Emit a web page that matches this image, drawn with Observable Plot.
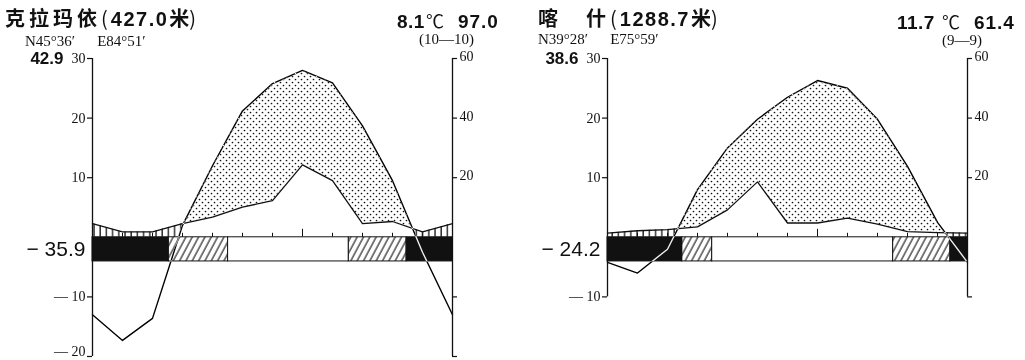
<!DOCTYPE html>
<html>
<head>
<meta charset="utf-8">
<script src="https://cdn.jsdelivr.net/npm/d3@7"></script>
<script src="https://cdn.jsdelivr.net/npm/@observablehq/plot@0.6"></script>
<style>
  body { margin: 0; background: #fff; }
  #chart { position: relative; width: 1025px; height: 360px; overflow: hidden; color: #111; }
  .hd { position: absolute; white-space: nowrap; color: #111; }
  .cjk { font-family: "Noto Sans CJK SC", sans-serif; }
  .title { font-size: 20px; line-height: 22px; font-weight: 700; }
  .paren { font-family: "Noto Sans CJK SC", sans-serif; font-weight: 400; }
  .num { font-family: "Liberation Sans", Arial, sans-serif; font-weight: 700; }
  .serif { font-family: "Liberation Serif", "DejaVu Serif", serif; font-size: 15px; line-height: 15px; }
  .annual { font-size: 19px; line-height: 19px; }
  .deg { font-family: "Noto Sans CJK SC", sans-serif; font-weight: 400; font-size: 18px; }
</style>
</head>
<body>
<!-- fill patterns shared by both diagrams -->
<svg width="0" height="0" style="position:absolute">
  <defs>
    <pattern id="arid" width="6" height="6" patternUnits="userSpaceOnUse">
      <circle cx="1.5" cy="1.5" r="0.85" fill="#111"/>
      <circle cx="4.5" cy="4.5" r="0.85" fill="#111"/>
    </pattern>
    <pattern id="humid" width="6.2" height="10" patternUnits="userSpaceOnUse">
      <line x1="1" y1="0" x2="1" y2="10" stroke="#111" stroke-width="1.3"/>
    </pattern>
    <pattern id="slant" width="5.6" height="10" patternUnits="userSpaceOnUse" patternTransform="rotate(28)">
      <line x1="1" y1="-1" x2="1" y2="11" stroke="#111" stroke-width="1.1"/>
    </pattern>
  </defs>
</svg>
<div id="chart"></div>
<script>
// Month positions: 1–12 = Jan–Dec; position 0 repeats December so the curves wrap.
const monthIndex = [1, 2, 3, 4, 5, 6, 7, 8, 9, 10, 11, 12];
const monthTicks = [1, 2, 3, 4, 5, 6, 8, 9, 10, 11];
const julyTick = [7];

// Station metadata
const stationNames = ["克拉玛依", "喀　什"];
const elevations = [427.0, 1288.7];
const latitudes = ["N45°36′", "N39°28′"];
const longitudes = ["E84°51′", "E75°59′"];
const annualTemp = [8.1, 11.7];
const annualPrecip = [97.0, 61.4];
const recordYears = ["10—10", "9—9"];
const absMax = [42.9, 38.6];
const absMin = [-35.9, -24.2];

// Monthly mean temperature (°C), Jan–Dec
const karamayTemp = [-17.3, -13.6, 2.0, 12.0, 21.2, 25.8, 28.0, 25.9, 18.7, 9.5, -2.5, -13.0];
const kashgarTemp = [-6.0, -2.0, 8.0, 15.0, 19.8, 23.5, 26.3, 25.0, 19.8, 11.9, 2.5, -4.2];

// Monthly precipitation (mm), Jan–Dec
const karamayPrecip = [1.8, 1.8, 4.6, 6.8, 10.1, 12.3, 24.3, 19.0, 4.6, 5.3, 1.8, 4.6];
const kashgarPrecip = [2.2, 2.6, 3.5, 9.2, 18.6, 4.8, 4.8, 6.4, 4.4, 1.9, 1.6, 1.4];

// Frost bar segments (month positions): solid = mean daily minimum below 0,
// slant = absolute minimum below 0, clear = frost-free
const karamayFrost = [
  {from: 0, to: 2.54, kind: "solid"},
  {from: 2.54, to: 4.52, kind: "slant"},
  {from: 4.52, to: 8.54, kind: "clear"},
  {from: 8.54, to: 10.47, kind: "slant"},
  {from: 10.47, to: 12, kind: "solid"}
];
const kashgarFrost = [
  {from: 0, to: 2.49, kind: "solid"},
  {from: 2.49, to: 3.49, kind: "slant"},
  {from: 3.49, to: 9.52, kind: "clear"},
  {from: 9.52, to: 11.43, kind: "slant"},
  {from: 11.43, to: 12, kind: "solid"}
];

// Axis ticks (°C on the left; same heights carry the mm scale on the right)
const karamayTempTicks = [30, 20, 10, -10, -20];
const kashgarTempTicks = [30, 20, 10, -10];
const precipTickLabels = [60, 40, 20];

const temps = [karamayTemp, kashgarTemp];
const precips = [karamayPrecip, kashgarPrecip];
const frostBands = [karamayFrost, kashgarFrost];
const tempTicks = [karamayTempTicks, kashgarTempTicks];

// Walter–Lieth convention: 10 °C on the left matches 20 mm on the right
const MM_PER_DEGREE = 2;
const TEMP_DOMAIN = [-20, 30];
const BAR_DEPTH = 4.05;   // frost bar thickness, in °C units below zero

const ink = "#111";
const serif = "Liberation Serif, DejaVu Serif, serif";
const sans = "Liberation Sans, Arial, sans-serif";

const layout = [
  {left: 0, width: 512, marginLeft: 92, degGap: 1,
   title: [5, 7], coords: [25, 34], annual: [397, 11], years: [419, 32]},
  {left: 512, width: 513, marginLeft: 95, degGap: 7,
   title: [538, 7], coords: [538, 32], annual: [897, 12], years: [942, 33]}
];

const chart = document.getElementById("chart");

function addBlock(html, [left, top], cls) {
  const d = document.createElement("div");
  d.className = "hd " + cls;
  d.style.left = left + "px";
  d.style.top = top + "px";
  d.innerHTML = html;
  chart.appendChild(d);
}

const tickText = d => d < 0 ? "— " + (-d) : String(d);

function drawPanel(k) {
  const L = layout[k];
  const temp = temps[k], precip = precips[k];
  const rows = [{m: 0, t: temp[11], p: precip[11]}]
    .concat(monthIndex.map((m, i) => ({m, t: temp[i], p: precip[i]})));
  const pDeg = d => d.p / MM_PER_DEGREE;
  const ticks = tempTicks[k];
  const axisBottom = ticks[ticks.length - 1];
  const bands = frostBands[k];
  const ofKind = kind => bands.filter(b => b.kind === kind);
  // the label at the very bottom edge sits just above the window edge
  const edgeTicks = ticks.filter(d => d === TEMP_DOMAIN[0]);
  const innerTicks = ticks.filter(d => d !== TEMP_DOMAIN[0]);
  const labelStyle = {textAnchor: "end", dx: -7, fontFamily: serif, fontSize: 14, fill: ink};

  const svg = Plot.plot({
    width: L.width,
    height: 360,
    marginLeft: L.marginLeft,
    marginRight: L.width - L.marginLeft - 360,
    marginTop: 58,
    marginBottom: 4,
    x: {domain: [0, 12], axis: null},
    y: {domain: TEMP_DOMAIN, axis: null},
    style: {overflow: "visible", background: "transparent", color: ink},
    marks: [
      Plot.frame({fill: "white", stroke: "none"}),
      // arid (dotted) where temperature lies above precipitation, humid (vertical lines) where below
      Plot.differenceY(rows, {
        x: "m", y1: "t", y2: pDeg,
        positiveFill: "url(#humid)", negativeFill: "url(#arid)",
        positiveFillOpacity: 1, negativeFillOpacity: 1,
        stroke: "none"
      }),
      // nothing is shaded below the zero line
      Plot.rect([TEMP_DOMAIN], {x1: 0, x2: 12, y1: 0, y2: d => d[0], fill: "white"}),
      // month ticks along the zero line
      Plot.ruleX(monthTicks, {x: d => d, y1: 0, y2: 0, insetTop: -4, stroke: ink}),
      Plot.ruleX(julyTick, {x: d => d, y1: 0, y2: 0, insetTop: -8, stroke: ink}),
      // frost bar
      Plot.rect(ofKind("solid"), {x1: "from", x2: "to", y1: 0, y2: -BAR_DEPTH, fill: ink, stroke: ink}),
      Plot.rect(ofKind("slant"), {x1: "from", x2: "to", y1: 0, y2: -BAR_DEPTH, fill: "url(#slant)", stroke: ink}),
      Plot.rect(ofKind("clear"), {x1: "from", x2: "to", y1: 0, y2: -BAR_DEPTH, fill: "white", stroke: ink}),
      // precipitation curve
      Plot.line(rows, {x: "m", y: pDeg, stroke: ink, strokeWidth: 1.3}),
      // temperature curve, shown white where it crosses the black bar
      Plot.line(rows, {x: "m", y: "t", stroke: "white", strokeWidth: 1.4, mixBlendMode: "difference"}),
      // axes
      Plot.ruleX([0, 12], {x: d => d, y1: axisBottom, y2: TEMP_DOMAIN[1], stroke: ink, strokeWidth: 1.3}),
      Plot.ruleY(ticks, {y: d => d, x1: 0, x2: 0, insetLeft: -5, stroke: ink, strokeWidth: 1.2}),
      Plot.ruleY(ticks, {y: d => d, x1: 12, x2: 12, insetRight: -5, stroke: ink, strokeWidth: 1.2}),
      Plot.text(innerTicks, {x: 0, y: d => d, text: tickText, ...labelStyle}),
      Plot.text(edgeTicks, {x: 0, y: d => d, text: tickText, lineAnchor: "bottom", dy: -1, ...labelStyle}),
      Plot.text(precipTickLabels, {
        x: 12, y: d => d / MM_PER_DEGREE, text: d => String(d),
        textAnchor: "start", dx: 7, dy: -2, fontFamily: serif, fontSize: 14, fill: ink
      }),
      // absolute extremes
      Plot.text([absMax[k]], {
        x: 0, y: TEMP_DOMAIN[1], text: d => d.toFixed(1), textAnchor: "end", dx: -29, dy: 0,
        fontFamily: sans, fontWeight: "bold", fontSize: 17, letterSpacing: 1.5, fill: ink
      }),
      Plot.text([absMin[k]], {
        x: 0, y: -BAR_DEPTH / 2, text: d => "− " + (-d).toFixed(1), textAnchor: "end", dx: -7,
        fontFamily: sans, fontSize: 21, fill: ink
      })
    ]
  });
  svg.style.position = "absolute";
  svg.style.left = L.left + "px";
  svg.style.top = "0px";
  chart.appendChild(svg);

  // headings
  addBlock(
    `<span class="cjk" style="letter-spacing:4px">${stationNames[k]}</span>` +
    `<span class="paren">(</span>` +
    `<span class="num" style="letter-spacing:1.5px;margin-left:3px">${elevations[k].toFixed(1)}</span>` +
    `<span class="cjk" style="margin-left:1px">米</span>` +
    `<span class="paren">)</span>`,
    L.title, "title");
  addBlock(`${latitudes[k]}<span style="margin-left:22px">${longitudes[k]}</span>`, L.coords, "serif");
  addBlock(
    `<span class="num" style="letter-spacing:0.5px">${annualTemp[k].toFixed(1)}</span>` +
    `<span class="deg" style="margin-left:${L.degGap}px">℃</span>` +
    `<span class="num" style="margin-left:14px;letter-spacing:1px">${annualPrecip[k].toFixed(1)}</span>`,
    L.annual, "annual");
  addBlock(`(${recordYears[k]})`, L.years, "serif");
}

drawPanel(0);
drawPanel(1);
</script>
</body>
</html>
